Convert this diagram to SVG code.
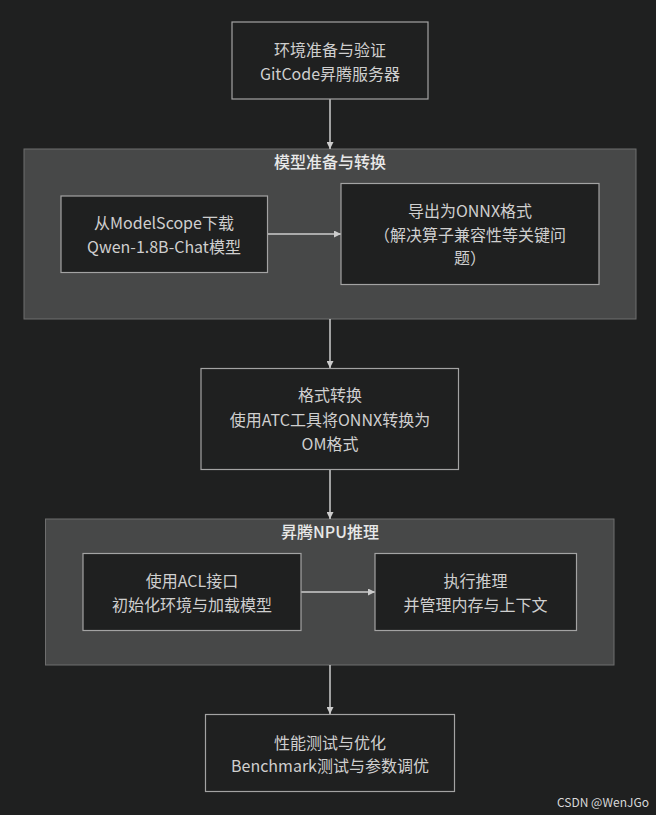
<svg xmlns="http://www.w3.org/2000/svg" width="656" height="815" viewBox="0 0 656 815">
<style>
.bg{fill:#1f2020}
.cluster{fill:#474848;stroke:#6e6e6e;stroke-width:1}
.node{fill:#1f2020;stroke:#a3a3a3;stroke-width:1.2}
.t{font-family:"Noto Sans CJK SC","Noto Sans",sans-serif;font-size:16px;fill:#cfcfcf;text-anchor:middle;dominant-baseline:central}
.ct{font-family:"Noto Sans CJK SC","Noto Sans",sans-serif;font-size:16px;font-weight:500;fill:#e8e8e8;text-anchor:middle;dominant-baseline:central}
.edge{stroke:#cccccc;stroke-width:1.5;fill:none}
.wm{font-family:"Noto Sans CJK SC","Noto Sans",sans-serif;font-size:12px;fill:#d8d8d8;dominant-baseline:central}
</style>
<defs>
<marker id="arr" viewBox="0 0 10 10" refX="10" refY="5" markerWidth="7" markerHeight="7" markerUnits="userSpaceOnUse" orient="auto">
<path d="M0,0 L10,5 L0,10 z" fill="#cccccc"/>
</marker>
</defs>
<rect class="bg" x="0" y="0" width="656" height="815"/>
<g id="cluster-model">
<rect class="cluster" x="24" y="149" width="612" height="170"/>
<text class="ct" x="330" y="161">模型准备与转换</text>
</g>
<g id="cluster-npu">
<rect class="cluster" x="45.5" y="519" width="568.5" height="146"/>
<text class="ct" x="330" y="531">昇腾NPU推理</text>
</g>
<g id="connectors">
<path class="edge" d="M330,99 L330,149" marker-end="url(#arr)"/>
<path class="edge" d="M267.5,234 L341,234" marker-end="url(#arr)"/>
<path class="edge" d="M330,319 L330,368" marker-end="url(#arr)"/>
<path class="edge" d="M330,469 L330,519" marker-end="url(#arr)"/>
<path class="edge" d="M301,592 L375,592" marker-end="url(#arr)"/>
<path class="edge" d="M330,665 L330,714" marker-end="url(#arr)"/>
</g>
<g id="node-env">
<rect class="node" x="232" y="22" width="196" height="77"/>
<text class="t" x="330" y="49">环境准备与验证</text>
<text class="t" x="330" y="73">GitCode昇腾服务器</text>
</g>
<g id="node-download">
<rect class="node" x="61" y="196" width="206.5" height="76.5"/>
<text class="t" x="164" y="222">从ModelScope下载</text>
<text class="t" x="164" y="246">Qwen-1.8B-Chat模型</text>
</g>
<g id="node-onnx">
<rect class="node" x="341" y="183.5" width="258" height="101"/>
<text class="t" x="470" y="210">导出为ONNX格式</text>
<text class="t" x="470" y="234">（解决算子兼容性等关键问</text>
<text class="t" x="470" y="257">题）</text>
</g>
<g id="node-atc">
<rect class="node" x="201" y="368.5" width="257.5" height="101"/>
<text class="t" x="330" y="394">格式转换</text>
<text class="t" x="330" y="419">使用ATC工具将ONNX转换为</text>
<text class="t" x="330" y="443">OM格式</text>
</g>
<g id="node-acl">
<rect class="node" x="83" y="553.5" width="218" height="77"/>
<text class="t" x="192" y="580">使用ACL接口</text>
<text class="t" x="192" y="604">初始化环境与加载模型</text>
</g>
<g id="node-infer">
<rect class="node" x="375" y="553.5" width="201.5" height="77"/>
<text class="t" x="475.5" y="580">执行推理</text>
<text class="t" x="475.5" y="604">并管理内存与上下文</text>
</g>
<g id="node-bench">
<rect class="node" x="205.5" y="714.5" width="249" height="77"/>
<text class="t" x="330" y="742">性能测试与优化</text>
<text class="t" x="330" y="765">Benchmark测试与参数调优</text>
</g>
<text class="wm" x="557" y="801">CSDN @WenJGo</text>
</svg>
